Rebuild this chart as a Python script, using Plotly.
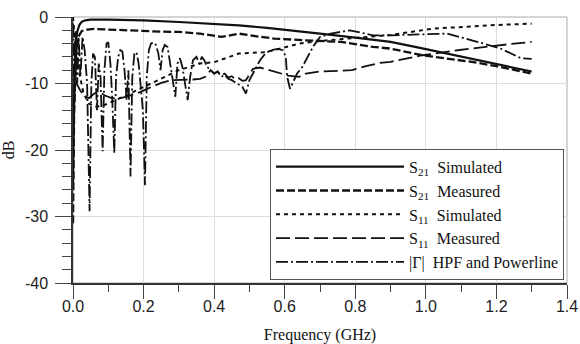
import plotly.graph_objects as go

# ---------------- data (GHz, dB) ----------------
s21_sim_f = [0, 0.004, 0.008, 0.012, 0.018, 0.025, 0.035, 0.05, 0.1, 0.2, 0.3, 0.4, 0.47,
             0.55, 0.62, 0.7, 0.8, 0.9, 0.98, 1.06, 1.12, 1.2, 1.25, 1.3]
s21_sim_db = [-25, -9, -4, -2.2, -1.2, -0.7, -0.5, -0.4, -0.4, -0.5, -0.75, -1.0, -1.25,
              -1.65, -2.0, -2.5, -3.1, -3.75, -4.6, -5.5, -6.1, -7.0, -7.6, -8.2]

s21_meas_f = [0, 0.003, 0.008, 0.015, 0.025, 0.04, 0.06, 0.1, 0.15, 0.2, 0.25, 0.3, 0.36,
              0.42, 0.47, 0.52, 0.57, 0.66, 0.76, 0.85, 0.9, 0.99, 1.06, 1.13, 1.2, 1.25, 1.3]
s21_meas_db = [-31, -15, -6, -3, -2.1, -1.9, -1.8, -1.9, -2.0, -2.1, -2.2, -2.25, -2.5,
               -3.0, -2.5, -2.9, -3.25, -3.5, -3.75, -4.5, -4.75, -5.75, -6.2, -6.75, -7.4, -7.9, -8.5]

s11_sim_f = [0, 0.005, 0.01, 0.02, 0.03, 0.045, 0.06, 0.08, 0.10, 0.15, 0.20, 0.25, 0.30,
             0.36, 0.40, 0.47, 0.54, 0.57, 0.64, 0.70, 0.80, 0.90, 1.02, 1.10, 1.20, 1.30]
s11_sim_db = [0, -3, -6, -9, -11.5, -13, -13.5, -13.4, -13, -11.8, -10.5, -9.2, -8.0,
              -7.0, -6.8, -5.5, -5.3, -5.0, -4.0, -3.6, -3.1, -2.7, -1.75, -1.5, -1.2, -1.0]

s11_meas_f = [0, 0.005, 0.010, 0.020, 0.030, 0.045, 0.060, 0.075, 0.090, 0.110, 0.133, 0.150,
              0.170, 0.190, 0.210, 0.230, 0.250, 0.280, 0.310, 0.340, 0.360, 0.375, 0.39, 0.40,
              0.41, 0.42, 0.43, 0.44, 0.45, 0.46, 0.47, 0.48, 0.49, 0.50, 0.51, 0.53, 0.55, 0.58,
              0.61, 0.64, 0.66, 0.70, 0.75, 0.79, 0.83, 0.87, 0.90, 0.99, 1.09, 1.20, 1.25, 1.30]
s11_meas_db = [-1, -6, -10, -11, -11.8, -12.2, -11.5, -11.3, -11.8, -12.2, -12.2, -12.0,
               -11.7, -11.3, -10.8, -10.3, -9.9, -9.5, -9.5, -9.4, -9.3, -9.0, -8.0, -8.5,
               -8.2, -8.8, -8.5, -9.1, -8.9, -9.4, -9.2, -9.6, -9.5, -8.6, -7.8, -7.6, -7.9, -8.4,
               -8.8, -9.0, -8.5, -8.2, -8.1, -8.0, -7.4, -6.9, -6.75, -5.75, -5.0, -4.25, -4.0, -3.75]

gamma_f = [0.000, 0.004, 0.008, 0.012, 0.016, 0.021, 0.027, 0.033, 0.040, 0.047, 0.052, 0.057,
           0.062, 0.068, 0.073, 0.078, 0.084, 0.089, 0.095, 0.100, 0.106, 0.111, 0.117, 0.122,
           0.128, 0.134, 0.140, 0.146, 0.152, 0.157, 0.163, 0.168, 0.174, 0.180, 0.186, 0.192,
           0.198, 0.204, 0.209, 0.215, 0.221, 0.228, 0.235, 0.242, 0.248, 0.254, 0.260, 0.268,
           0.275, 0.283, 0.290, 0.296, 0.303, 0.310, 0.318, 0.325, 0.332, 0.340, 0.350, 0.358,
           0.365, 0.372, 0.38, 0.39, 0.40, 0.41, 0.42, 0.43, 0.44, 0.45, 0.46, 0.47, 0.48, 0.49,
           0.50, 0.51, 0.52, 0.53, 0.545, 0.56, 0.58, 0.595, 0.603, 0.607, 0.615, 0.625, 0.635,
           0.65, 0.665, 0.68, 0.70, 0.73, 0.785, 0.85, 0.90, 0.98, 1.06, 1.13, 1.21, 1.27, 1.30]
gamma_db = [-1, -13, -2, -10, -3, -9, -3, -5, -10, -29.2, -10, -5.5,
            -6, -14, -7, -9, -20.2, -8, -4, -3.8, -7, -12, -20.5, -9,
            -6, -5, -5.2, -8, -12.5, -8, -24, -9, -5.5, -5.3, -7, -11,
            -14, -25.3, -9, -5, -4, -3.8, -4.2, -5.5, -8, -5, -4.2, -4.5,
            -7, -10, -12, -7, -6.2, -7.5, -10, -12.5, -9, -6.5, -6, -7,
            -6, -6.5, -7.5, -8, -8.5, -8.2, -9, -8.7, -9.3, -9.5, -9.8, -10.2, -10.5, -11.5,
            -9.5, -8.5, -7.5, -6.5, -5.5, -5, -4.8, -5.0, -6, -9, -10.8, -9.5, -8.5,
            -7.5, -6, -4.5, -3, -2.5, -2.0, -2.75, -2.75, -2.6, -2.5, -3.5, -4.7, -6.2, -6.3]

x_ticks = [0.0, 0.2, 0.4, 0.6, 0.8, 1.0, 1.2, 1.4]
x_tick_text = ["0.0", "0.2", "0.4", "0.6", "0.8", "1.0", "1.2", "1.4"]
y_ticks = [0, -10, -20, -30, -40]
y_tick_text = ["0", "-10", "-20", "-30", "-40"]

names = ["S<sub>21</sub>  Simulated", "S<sub>21</sub>  Measured", "S<sub>11</sub>  Simulated",
         "S<sub>11</sub>  Measured", "|Γ|  HPF and Powerline"]

fig = go.Figure()
series = [
    (s21_sim_f, s21_sim_db, "solid", 2.2),
    (s21_meas_f, s21_meas_db, "8px,3px", 2.3),
    (s11_sim_f, s11_sim_db, "4px,4px", 2.0),
    (s11_meas_f, s11_meas_db, "14px,5px", 1.8),
    (gamma_f, gamma_db, "12px,3px,2px,3px", 1.8),
]
for (fx, fy, dash, w), nm in zip(series, names):
    fig.add_trace(go.Scatter(x=fx, y=fy, mode="lines", name=nm,
                             line=dict(color="#111111", width=w, dash=dash)))

tickfont = dict(family="Liberation Sans, Arial", size=16, color="#222222")
serif = "Liberation Serif, Times New Roman, serif"

fig.update_layout(
    width=580, height=344,
    margin=dict(l=73, r=13, t=17, b=61),
    paper_bgcolor="white", plot_bgcolor="white",
    showlegend=True,
    legend=dict(x=0.994, y=0.012, xanchor="right", yanchor="bottom",
                bgcolor="white", bordercolor="#555555", borderwidth=1,
                font=dict(family=serif, size=16, color="#111111"),
                itemwidth=128, tracegroupgap=0),
    shapes=[dict(type="rect", xref="paper", yref="paper", x0=0, y0=0, x1=1, y1=1,
                 line=dict(color="#aaaaaa", width=1), layer="below")],
)
fig.update_xaxes(range=[0, 1.4], tickvals=x_ticks, ticktext=x_tick_text, automargin=False,
                 showgrid=True, gridcolor="#dddddd", gridwidth=1, zeroline=False,
                 showline=True, linecolor="#333333", linewidth=1.5,
                 ticks="outside", ticklen=14, tickcolor="#444444", tickwidth=1,
                 ticklabelstandoff=-6,
                 minor=dict(dtick=0.1, ticks="outside", ticklen=7, tickcolor="#444444", showgrid=False),
                 tickfont=tickfont,
                 title=dict(text="Frequency (GHz)", standoff=15,
                            font=dict(family=serif, size=16, color="#111111")))
fig.update_yaxes(range=[-40, 0], tickvals=y_ticks, ticktext=y_tick_text, automargin=False,
                 showgrid=True, gridcolor="#dddddd", gridwidth=1, zeroline=False,
                 showline=True, linecolor="#333333", linewidth=1.5,
                 ticks="outside", ticklen=16, tickcolor="#444444", tickwidth=1,
                 ticklabelstandoff=4,
                 minor=dict(dtick=2, ticks="outside", ticklen=9, tickcolor="#444444", showgrid=False),
                 tickfont=tickfont,
                 title=dict(text="dB", standoff=6,
                            font=dict(family=serif, size=16, color="#111111")))

fig.write_html("out.html", post_script="document.body.style.margin='0';",
               config={"displayModeBar": False})
